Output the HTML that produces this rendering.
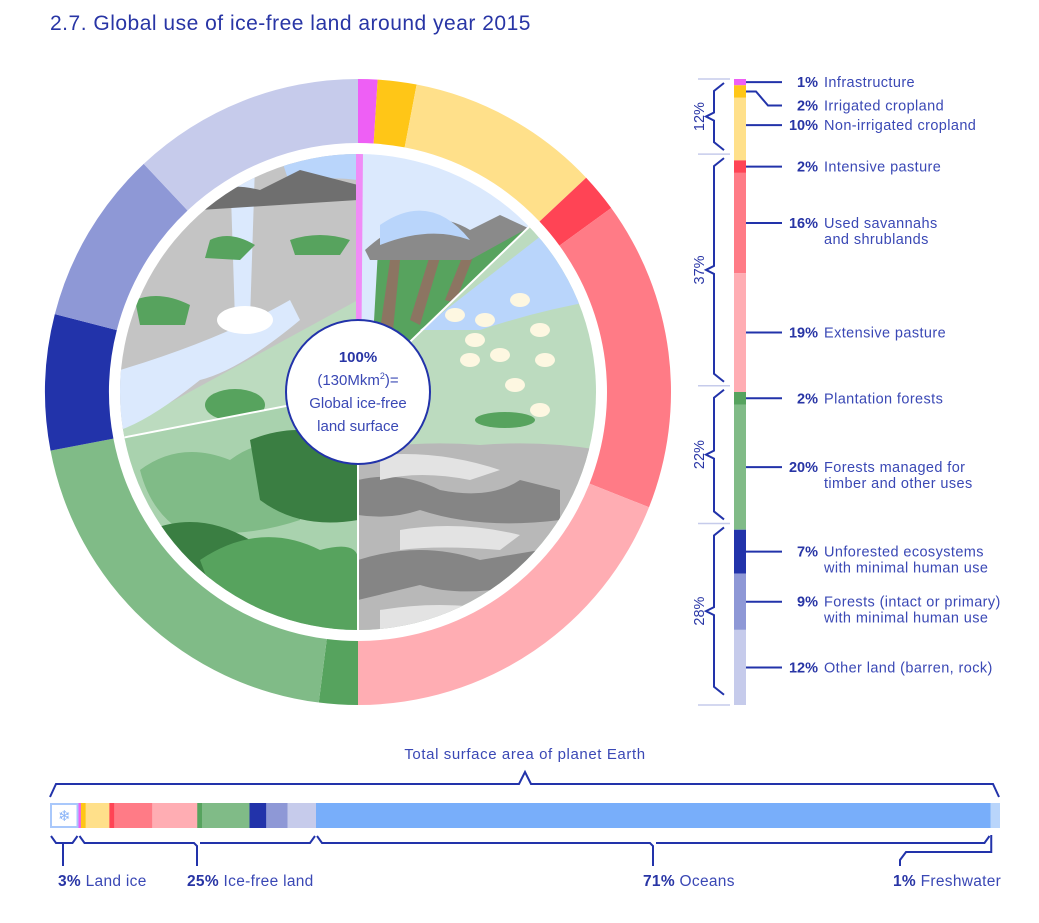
<!DOCTYPE html>
<html><head><meta charset="utf-8"><style>
html,body{margin:0;padding:0;background:#fff;}
body{width:1039px;height:918px;overflow:hidden;font-family:"Liberation Sans",sans-serif;}
svg text{font-family:"Liberation Sans",sans-serif;}
</style></head><body>
<svg id="chart" width="1039" height="918" viewBox="0 0 1039 918" xmlns="http://www.w3.org/2000/svg">
<text x="50" y="30" font-size="21" letter-spacing="0.5" fill="#2835a5">2.7.  Global use of ice-free land around year 2015</text>
<defs><clipPath id="ill"><circle cx="358" cy="392" r="238"/></clipPath></defs>
<g id="donut"></g>
<g id="illus" clip-path="url(#ill)"></g>
<circle cx="358" cy="392" r="72" fill="#fff" stroke="#2233aa" stroke-width="2"/>
<text x="358" y="362" text-anchor="middle" font-size="15" font-weight="bold" fill="#2835a5">100%</text>
<text x="358" y="385" text-anchor="middle" font-size="15" fill="#3a48b5">(130Mkm<tspan font-size="9" dy="-6">2</tspan><tspan dy="6">)=</tspan></text>
<text x="358" y="408" text-anchor="middle" font-size="15" fill="#3a48b5">Global ice-free</text>
<text x="358" y="431" text-anchor="middle" font-size="15" fill="#3a48b5">land surface</text>
<g id="legend"></g>
<g id="bottom"></g>
</svg>
<script>
const categories = ["Infrastructure","Irrigated cropland","Non-irrigated cropland","Intensive pasture","Used savannahs|and shrublands","Extensive pasture","Plantation forests","Forests managed for|timber and other uses","Unforested ecosystems|with minimal human use","Forests (intact or primary)|with minimal human use","Other land (barren, rock)"];
const shares = [1,2,10,2,16,19,2,20,7,9,12];
const colors = ["#ee5ff5","#ffc617","#ffe08a","#ff4455","#ff7b86","#ffadb3","#56a35e","#80bb87","#2233aa","#8e98d6","#c6cbeb"];
const groupLabels = ["12%","37%","22%","28%"];
const groupShares = [12,37,22,28];
const surfaceLabels = ["Land ice","Ice-free land","Oceans","Freshwater"];
const surfaceShares = [3,25,71,1];

const NS="http://www.w3.org/2000/svg";
function el(tag,attrs,parent){const e=document.createElementNS(NS,tag);for(const k in attrs)e.setAttribute(k,attrs[k]);parent.appendChild(e);return e;}
const cx=358,cy=392,R1=313,R0=249;
const total=shares.reduce((a,b)=>a+b,0);
function angle(v){return v/total*2*Math.PI;}
function pt(a,r){return [cx+r*Math.sin(a),cy-r*Math.cos(a)];}
function arcPath(a0,a1,r0,r1){const p0=pt(a0,r1),p1=pt(a1,r1),p2=pt(a1,r0),p3=pt(a0,r0);const l=(a1-a0)>Math.PI?1:0;
return `M${p0} A${r1},${r1} 0 ${l} 1 ${p1} L${p2} A${r0},${r0} 0 ${l} 0 ${p3}Z`;}
const donut=document.getElementById('donut');
let acc=0;
shares.forEach((s,i)=>{const a0=angle(acc),a1=angle(acc+s);acc+=s;
 const p=el('path',{d:arcPath(a0,a1,R0,R1),fill:colors[i]},donut);
 
 });

// illustration
const ill=document.getElementById('illus');
function sector(d0,d1,fill,name){const a0=d0*Math.PI/180,a1=d1*Math.PI/180;const p0=pt(a0,300),p1=pt(a1,300);const l=(d1-d0)>180?1:0;
 const p=el('path',{d:`M${cx},${cy} L${p0} A300,300 0 ${l} 1 ${p1}Z`,fill:fill},ill);
 
 return p;}
sector(0,46,"#dbe9fd","cropland-scene");
el('path',{d:"M370,392 L378,250 Q420,230 470,250 L528,228 Z",fill:"#57a35e"},ill);
el('path',{d:"M380,330 L390,260 L400,260 L392,340Z M410,320 L430,255 L440,258 L420,325Z M445,300 L465,250 L475,252 L455,303Z",fill:"#8c7562"},ill);
el('path',{d:"M365,250 Q420,200 470,230 L500,215 L528,228 L470,260 L370,260Z",fill:"#8a8a8a"},ill);
el('path',{d:"M380,225 Q430,190 470,240 Q430,225 380,245Z",fill:"#b9d5fb"},ill);
sector(46,180,"#bcdbbf","pasture-scene");
el('path',{d:"M420,330 L600,190 L600,300 Q540,310 480,330Z",fill:"#b9d5fb"},ill);
el('path',{d:"M358,450 Q420,440 480,445 Q540,440 600,450 L600,640 L358,640Z",fill:"#b8b8b8"},ill);
el('path',{d:"M358,480 Q400,470 440,490 Q490,500 520,480 L560,490 L560,520 Q480,530 420,510 Q390,520 358,515Z M358,560 Q420,540 480,560 L540,550 L540,580 Q470,600 420,585 L358,600Z",fill:"#858585"},ill);
el('path',{d:"M380,455 Q440,450 500,470 L470,480 Q420,470 380,480Z M400,530 Q460,520 520,535 L500,550 Q440,545 400,550Z M380,610 Q440,600 500,610 L480,630 L380,635Z",fill:"#e3e3e3"},ill);
[[455,315],[485,320],[520,300],[540,330],[500,355],[470,360],[545,360],[515,385],[540,410],[475,340]].forEach(p=>el('ellipse',{cx:p[0],cy:p[1],rx:10,ry:7,fill:"#fdf7e1"},ill));
el('ellipse',{cx:505,cy:420,rx:30,ry:8,fill:"#57a35e"},ill);
sector(259,360,"#c4c4c4","mountain-scene");
el('path',{d:"M120,430 L358,300 L358,420 L120,440Z",fill:"#bcdbbf"},ill);
el('path',{d:"M120,370 Q220,340 290,300 L300,320 Q240,370 200,380 Q150,420 120,430Z",fill:"#dbe9fd"},ill);
el('path',{d:"M230,165 L255,165 L250,320 L235,320Z",fill:"#dbe9fd"},ill);
el('path',{d:"M280,155 Q320,150 358,152 L358,180 Q320,175 290,185Z",fill:"#b9d5fb"},ill);
el('path',{d:"M190,200 Q220,180 260,190 L300,170 L358,185 L358,200 L200,210Z",fill:"#6f6f6f"},ill);
el('ellipse',{cx:245,cy:320,rx:28,ry:14,fill:"#fff"},ill);
el('path',{d:"M135,300 Q160,290 190,305 L185,325 L140,325Z M290,240 Q320,230 350,240 L340,255 L295,255Z M210,240 Q230,230 255,245 L240,260 L205,258Z",fill:"#57a35e"},ill);
el('ellipse',{cx:235,cy:405,rx:30,ry:16,fill:"#57a35e"},ill);
sector(180,259,"#a9d2ae","forest-scene");
el('path',{d:"M140,470 Q180,440 230,460 Q270,430 300,460 L300,520 Q240,540 180,530 Q150,510 140,470Z",fill:"#80bb87"},ill);
el('path',{d:"M250,440 Q300,420 340,440 L358,450 L358,520 Q300,530 260,500Z M150,530 Q200,510 250,540 L240,580 Q180,580 150,560Z",fill:"#3a7e42"},ill);
el('path',{d:"M200,560 Q260,520 320,550 Q358,540 358,560 L358,640 L230,640Z",fill:"#57a35e"},ill);
[0,46,180,259].forEach((a,i)=>{const r=a*Math.PI/180;const p=pt(r,240);const l=el('line',{x1:cx,y1:cy,x2:p[0],y2:p[1],stroke:"#fff","stroke-width":2},ill);});
el('path',{d:`M${cx-2},${cy} L${cx-2},150 L${cx+5},150 L${cx+3},${cy}Z`,fill:"#f08cf6"},ill);

// legend
const lg=document.getElementById('legend');
const bx=734,bw=12,bt=79,bh=626;
let ly=0;
shares.forEach((s,i)=>{const y0=bt+ly/total*bh,h=s/total*bh;ly+=s;
 const r=el('rect',{x:bx,y:y0,width:bw,height:h,fill:colors[i]},lg);
 
 
 let ty=y0+h/2; const lines=categories[i].split('|');
 if(i===1)ty+=14; if(i===2)ty=y0+h*0.5-4;
 const line=el('path',{d:i===1?`M${bx+bw},${y0+h/2} L756,${y0+h/2} L768,${ty} L782,${ty}`:`M${bx+bw},${ty} L782,${ty}`,stroke:"#2233aa","stroke-width":2,fill:"none"},lg);
 
 
 const lbl=el('text',{x:818,y:ty+5,"text-anchor":"end","font-size":14.5,"font-weight":"bold",fill:"#2835a5"},lg);
 lbl.textContent=shares[i]+'%';
 
 
 lines.forEach((t,k)=>{const tx=el('text',{x:824,y:ty+5+k*16,"font-size":14.5,"letter-spacing":0.4,fill:"#3a48b5"},lg);tx.textContent=t;
  
  });
});
let gy=0;
groupShares.forEach((g,i)=>{const y0=bt+gy/total*bh,y1=bt+(gy+g)/total*bh,m=(y0+y1)/2;gy+=g;
 const b=el('path',{d:`M724,${y0+4} L714,${y0+12} L714,${m-4} L706,${m} L714,${m+4} L714,${y1-12} L724,${y1-4}`,stroke:"#2233aa","stroke-width":2,fill:"none"},lg);
 
 
 el('line',{x1:698,y1:y0,x2:730,y2:y0,stroke:"#c6cbeb","stroke-width":1.5},lg);
 const t=el('text',{x:0,y:0,"font-size":14.5,fill:"#2835a5","text-anchor":"middle",transform:`translate(704,${m}) rotate(-90)`},lg);
 t.textContent=groupLabels[i];
 
 
});
el('line',{x1:698,y1:705,x2:730,y2:705,stroke:"#c6cbeb","stroke-width":1.5},lg);

// bottom bar
const bt2=document.getElementById('bottom');
const X0=50,X1=1000,BY=803,BH=25;
const sTotal=surfaceShares.reduce((a,b)=>a+b,0);
const sxS=v=>X0+v/sTotal*(X1-X0);
let sa=0;const bounds=[];
surfaceShares.forEach((s,i)=>{bounds.push([sxS(sa),sxS(sa+s)]);sa+=s;});
const ice=el('rect',{x:bounds[0][0]+1,y:BY+1,width:bounds[0][1]-bounds[0][0]-2,height:BH-2,fill:"#fff",stroke:"#a9c8fb","stroke-width":2},bt2);


const sn=el('text',{x:(bounds[0][0]+bounds[0][1])/2,y:BY+18,"text-anchor":"middle","font-size":15,fill:"#8ab4f8"},bt2);sn.textContent="❄";


let la=0;const lw=bounds[1][1]-bounds[1][0];
shares.forEach((s,i)=>{const r=el('rect',{x:bounds[1][0]+la/total*lw,y:BY,width:s/total*lw+0.5,height:BH,fill:colors[i]},bt2);la+=s;
 
 });
const oc=el('rect',{x:bounds[2][0],y:BY,width:bounds[2][1]-bounds[2][0],height:BH,fill:"#78aefa"},bt2);


const fw=el('rect',{x:bounds[3][0],y:BY,width:bounds[3][1]-bounds[3][0],height:BH,fill:"#b9d5fb"},bt2);


const tb=el('path',{d:`M50,797 L56,784 L519,784 L525,772 L531,784 L993,784 L999,797`,stroke:"#2233aa","stroke-width":2,fill:"none"},bt2);


const tt=el('text',{x:525,y:759,"text-anchor":"middle","font-size":15,"letter-spacing":0.6,fill:"#3a48b5"},bt2);tt.textContent="Total surface area of planet Earth";


const labX=[58,187,643,893];
surfaceLabels.forEach((t,i)=>{const [a,b]=bounds[i];
 const m=[63,197,653,900][i];
 let d;
 if(i===3) d=`M${(a+b)/2-4},835 L${(a+b)/2-4},852 L906,852 L900,860 L900,866`;
 else if(i===0) d=`M${a+1},836 L${a+6},843 L${m},843 L${m},866 M${m},843 L${b-6},843 L${b-1},836`;
 else d=`M${a+1},836 L${a+6},843 L${m-3},843 L${m},846 L${m},866 M${m+3},843 L${b-6},843 L${b-1},836`;
 const p=el('path',{d:d,stroke:"#2233aa","stroke-width":2,fill:"none"},bt2);
 
 
 const tx=el('text',{x:labX[i],y:886,"font-size":15.5,"letter-spacing":0.3,fill:"#3a48b5"},bt2);
 tx.innerHTML=`<tspan font-weight="bold" fill="#2835a5">${surfaceShares[i]}%</tspan> ${t}`;
 
 
});
</script>
</body></html>
